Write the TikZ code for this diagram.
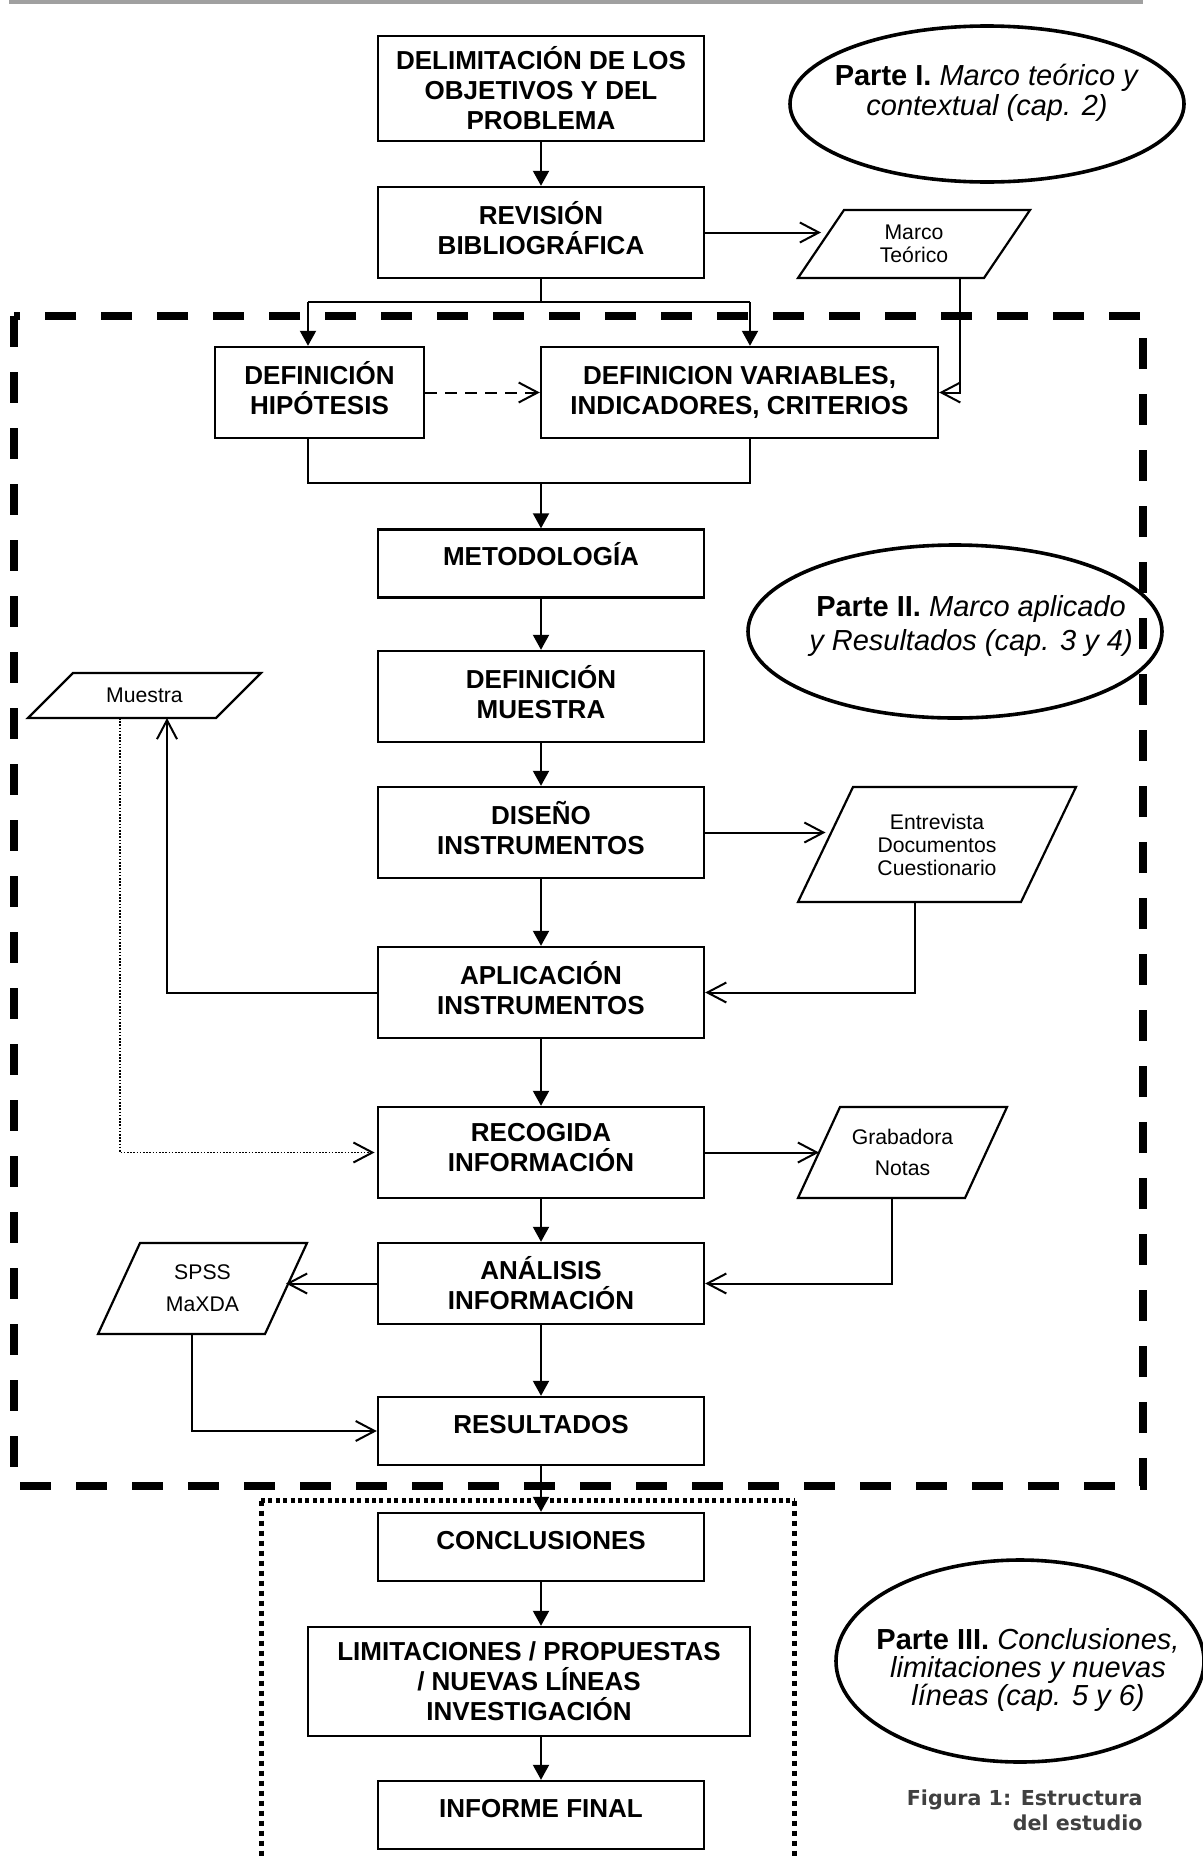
\documentclass[tikz,border=0pt]{standalone}
\usepackage{fontspec}
\setmainfont{Liberation Sans}
\newfontfamily\captionfont{DejaVu Sans}
\usetikzlibrary{arrows.meta,calc}

\definecolor{rulegray}{HTML}{A0A0A0}
\definecolor{captiongray}{HTML}{404040}

% invisible depth under the last line, lifts the text block a little
\newcommand\lowpad{\rule[-5pt]{0pt}{5pt}}

\tikzset{
  stepbox/.style={draw, line width=1.2pt, inner sep=0pt, minimum width=163pt,
    font=\fontsize{13}{15}\selectfont\bfseries},
  twoline/.style={stepbox, align=center, minimum height=45.5pt},
  oneline/.style={stepbox, minimum height=34pt, text height=9.5pt, text depth=7.2pt},
  datatext/.style={inner sep=0pt, align=center, font=\fontsize{10.6}{11.5}\selectfont},
  databox/.style={draw, line width=1.1pt, line join=miter},
  parttext/.style={inner sep=0pt, align=center, font=\fontsize{14.5}{15}\selectfont},
  partring/.style={draw, line width=1.8pt},
  link/.style={line width=1pt},
  flow/.style={link, -{Triangle[length=7.5pt,width=8pt]}},
  feed/.style={link, -{Straight Barb[length=9.5pt,width=10pt]}},
  hintfeed/.style={feed, dash pattern=on 6pt off 4pt},
  dotfeed/.style={line width=0.8pt, dash pattern=on 0.8pt off 0.8pt,
    -{Straight Barb[length=9.5pt,width=10pt,line width=1pt,sep]}},
  partframe/.style={line width=4pt, dash pattern=on 15.5pt off 12.5pt},
  dotframetop/.style={line width=2.5pt, dash pattern=on 2pt off 1.7pt},
  dotframeside/.style={line width=2.5pt, dash pattern=on 2.5pt off 2.5pt},
}

% data / document shape: name, centre x, centre y, width, height, slant, text
\newcommand\datashape[7]{%
  \node[datatext] (#1) at (#2,#3) {#7};
  \draw[databox] ($(#1.center)+({-#4/2},{#5/2})$) -- ($(#1.center)+({#4/2-#6},{#5/2})$)
    -- ($(#1.center)+({#4/2},{-#5/2})$) -- ($(#1.center)+({-#4/2+#6},{-#5/2})$) -- cycle;
  \coordinate (#1-w) at ($(#1.center)+({-#4/2+#6/2},0)$);
  \coordinate (#1-e) at ($(#1.center)+({#4/2-#6/2},0)$);
}

\begin{document}
\begin{tikzpicture}[x=0.5pt,y=-0.5pt]
\useasboundingbox (0,0) rectangle (1203,1858);

% header rule
\fill[rulegray] (9,0) rectangle (1143,3.5);

% part frames
\draw[partframe] (14,316) rectangle (1143,1486);
\draw[dotframetop] (261,1500.5) -- (794,1500.5);
\draw[dotframeside] (261,1500.5) -- (261,1875);
\draw[dotframeside] (794,1500.5) -- (794,1875);

% process steps
\node[twoline, minimum height=52.5pt] (b1) at (541,88.5) {DELIMITACIÓN DE LOS\\OBJETIVOS Y DEL\\PROBLEMA};
\node[twoline] (b2) at (541,232.5) {REVISIÓN\\BIBLIOGRÁFICA\lowpad};
\node[twoline, minimum width=104.5pt] (hyp) at (319.5,392.5) {DEFINICIÓN\\HIPÓTESIS\lowpad};
\node[twoline, minimum width=198.5pt] (var) at (739.5,392.5) {DEFINICION VARIABLES,\\INDICADORES, CRITERIOS};
\node[oneline] (met) at (541,563.5) {METODOLOGÍA};
\node[twoline] (dm) at (541,696.5) {DEFINICIÓN\\MUESTRA\lowpad};
\node[twoline] (dis) at (541,832.5) {DISEÑO\\INSTRUMENTOS\lowpad};
\node[twoline] (apl) at (541,992.5) {APLICACIÓN\\INSTRUMENTOS\lowpad};
\node[twoline] (rec) at (541,1152.5) {RECOGIDA\\INFORMACIÓN\lowpad};
\node[twoline, minimum height=40.5pt] (ana) at (541,1283.5) {ANÁLISIS\\INFORMACIÓN};
\node[oneline] (res) at (541,1431) {RESULTADOS};
\node[oneline] (con) at (541,1547) {CONCLUSIONES};
\node[twoline, minimum width=221pt, minimum height=54.5pt] (lim) at (529,1681.5) {LIMITACIONES / PROPUESTAS\\/ NUEVAS LÍNEAS\\INVESTIGACIÓN};
\node[oneline] (inf) at (541,1815) {INFORME FINAL};

% data shapes
\datashape{mt}{914}{244}{232}{68}{46}{Marco\\Teórico}
\datashape{ms}{144.5}{695.5}{233}{45}{45}{Muestra}
\datashape{ent}{937}{844.5}{278}{115}{55}{Entrevista\\Documentos\\Cuestionario}
\datashape{gra}{902.5}{1152.5}{209}{91}{42}{Grabadora\\[4pt]Notas}
\datashape{sp}{202.5}{1288.5}{209}{91}{42}{SPSS\\[4.5pt]MaXDA}

% part labels
\coordinate (r1) at (987,104);
\draw[partring] (r1) ellipse [x radius=98.5pt, y radius=39pt];
\node[parttext] (t1) at (987,93) {\textbf{Parte I.} \textit{Marco teórico y}\\\textit{contextual (cap. 2)}};
\coordinate (r2) at (955,631.5);
\draw[partring] (r2) ellipse [x radius=103.5pt, y radius=43.25pt];
\node[parttext, font=\fontsize{14.5}{17}\selectfont] (t2) at (971,626) {\textbf{Parte II.} \textit{Marco aplicado}\\\textit{y Resultados (cap. 3 y 4)}};
\coordinate (r3) at (1020,1661);
\draw[partring] (r3) ellipse [x radius=92pt, y radius=50.5pt];
\node[parttext, font=\fontsize{14.5}{14.2}\selectfont] (t3) at (1028,1670) {\textbf{Parte III.} \textit{Conclusiones,}\\\textit{limitaciones y nuevas}\\\textit{líneas (cap. 5 y 6)}};

% caption
\node[anchor=east, inner sep=0pt, align=right, text=captiongray,
  font=\captionfont\bfseries\fontsize{10.3}{12.5}\selectfont] (cap) at (1143,1810)
  {Figura 1: Estructura\\del estudio};

% junction points
\coordinate (jc) at (541,302);
\coordinate (jl) at (308,302);
\coordinate (jr) at (750,302);
\coordinate (kc) at (541,483);
\coordinate (kl) at (308,483);
\coordinate (kr) at (750,483);
\coordinate (mtb) at ($(mt.center)+(46,34)$);
\coordinate (entb) at ($(ent.center)+(-22,57.5)$);
\coordinate (msin) at ($(ms.center)+(22.5,22.5)$);
\coordinate (msout) at ($(ms.center)+(-24.5,22.5)$);
\coordinate (grab) at ($(gra.center)+(-10.5,45.5)$);
\coordinate (spb) at ($(sp.center)+(-10.5,45.5)$);

% main flow
\draw[flow] (b1) -- (b2);
\draw[link] (b2.south) -- (jc);
\draw[link] (jl) -- (jr);
\draw[flow] (jl) -- (jl |- hyp.north);
\draw[flow] (jr) -- (jr |- var.north);
\draw[link] (kl |- hyp.south) -- (kl) -- (kr) -- (kr |- var.south);
\draw[flow] (kc) -- (met.north);
\draw[flow] (met) -- (dm);
\draw[flow] (dm) -- (dis);
\draw[flow] (dis) -- (apl);
\draw[flow] (apl) -- (rec);
\draw[flow] (rec) -- (ana);
\draw[flow] (ana) -- (res);
\draw[flow] (res) -- (con);
\draw[flow] (con.south) -- (con.south |- lim.north);
\draw[flow] (inf.north |- lim.south) -- (inf.north);

% side links
\draw[hintfeed] (hyp.east) -- (var.west);
\draw[feed] (b2.east) -- (b2.east -| mt-w);
\draw[feed] (mtb) |- (var.east);
\draw[feed] (dis.east) -- (dis.east -| ent-w);
\draw[feed] (entb) |- (apl.east);
\draw[feed] (apl.west) -| (msin);
\draw[dotfeed] (msout) |- (rec.west);
\draw[feed] (rec.east) -- (rec.east -| gra-w);
\draw[feed] (grab) |- (ana.east);
\draw[feed] (ana.west) -- (ana.west -| sp-e);
\draw[feed] (spb) |- (res.west);
\end{tikzpicture}
\end{document}
